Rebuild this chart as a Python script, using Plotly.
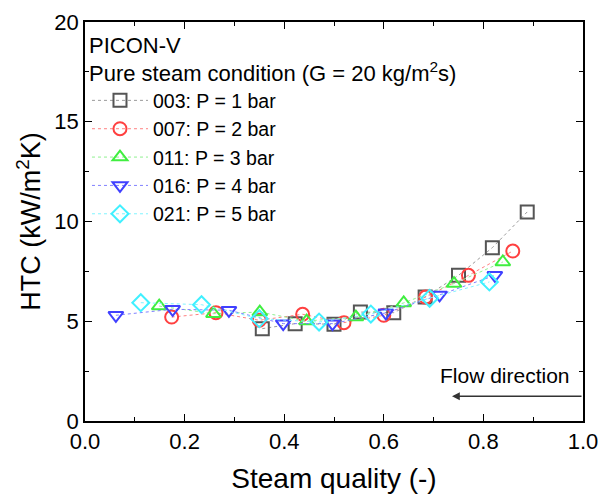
import plotly.graph_objects as go

# ---- data ----
x_003 = [0.356, 0.422, 0.500, 0.553, 0.620, 0.683, 0.750, 0.818, 0.888]
y_003 = [4.63, 4.88, 4.85, 5.46, 5.43, 6.22, 7.30, 8.69, 10.48]

x_007 = [0.174, 0.263, 0.350, 0.437, 0.520, 0.600, 0.684, 0.770, 0.859]
y_007 = [5.21, 5.43, 5.05, 5.35, 4.93, 5.30, 6.21, 7.30, 8.52]

x_011 = [0.149, 0.258, 0.351, 0.445, 0.544, 0.640, 0.741, 0.839]
y_011 = [5.76, 5.38, 5.46, 5.01, 5.21, 5.92, 6.89, 7.97]

x_016 = [0.062, 0.176, 0.289, 0.398, 0.497, 0.604, 0.712, 0.823]
y_016 = [5.30, 5.60, 5.55, 4.88, 4.88, 5.42, 6.32, 7.30]

x_021 = [0.112, 0.234, 0.350, 0.470, 0.574, 0.692, 0.812]
y_021 = [5.93, 5.83, 5.13, 4.96, 5.36, 6.15, 6.97]

names = ["003: P = 1 bar", "007: P = 2 bar", "011: P = 3 bar",
         "016: P = 4 bar", "021: P = 5 bar"]
xs = [x_003, x_007, x_011, x_016, x_021]
ys = [y_003, y_007, y_011, y_016, y_021]
symbols = ["square-open", "circle-open", "triangle-up-open",
           "triangle-down-open", "diamond-open"]
mcolors = ["#555555", "#FF4040", "#40EE40", "#4040FF", "#40F0FF"]
lcolors = ["#9a9a9a", "#FF8080", "#90F090", "#8080FF", "#80F4FF"]

FONT = "Liberation Sans, Arial, sans-serif"

fig = go.Figure()
for xv, yv, nm, sy, mc, lc in zip(xs, ys, names, symbols, mcolors, lcolors):
    fig.add_trace(go.Scatter(
        x=xv, y=yv, name=nm, mode="lines+markers",
        line=dict(color=lc, width=1, dash="dot"),
        marker=dict(symbol=sy, size=13, color=mc, line=dict(width=2, color=mc)),
    ))

fig.add_annotation(
    x=0.737, y=1.24, ax=1.0, ay=1.24, xref="x", yref="y", axref="x", ayref="y",
    text="", showarrow=True, arrowhead=2, arrowsize=1.2, arrowwidth=1.3,
    arrowcolor="#333333",
)
fig.add_annotation(
    x=0.978, y=2.3, xref="x", yref="y", text="Flow direction", showarrow=False,
    xanchor="right", yanchor="middle", font=dict(family=FONT, size=21, color="black"),
)

axis_common = dict(
    showline=True, linecolor="black", linewidth=1.5, mirror="allticks",
    ticks="inside", ticklen=7, tickwidth=1.3, tickcolor="black",
    showgrid=False, zeroline=False, automargin=False,
    tickfont=dict(family=FONT, size=22, color="black"),
)

fig.update_layout(
    width=609, height=496,
    margin=dict(l=85, r=26, t=22, b=75),
    paper_bgcolor="white", plot_bgcolor="white",
    font=dict(family=FONT, color="black"),
    xaxis=dict(range=[0, 1.0], dtick=0.2, tickformat=".1f",
               minor=dict(ticks="inside", ticklen=4, dtick=0.1, tickcolor="black"),
               title=dict(text="Steam quality (-)", font=dict(family=FONT, size=28),
                          standoff=15),
               **axis_common),
    yaxis=dict(range=[0, 20], dtick=5,
               minor=dict(ticks="inside", ticklen=4, dtick=2.5, tickcolor="black"),
               title=dict(text="HTC (kW/m<sup>2</sup>K)", font=dict(family=FONT, size=27),
                          standoff=6),
               **axis_common),
    showlegend=True,
    legend=dict(
        x=0.004, y=0.995, xanchor="left", yanchor="top",
        bgcolor="rgba(0,0,0,0)", borderwidth=0,
        font=dict(family=FONT, size=19.5, color="black"),
        title=dict(text="PICON-V<br>Pure steam condition (G = 20 kg/m<sup>2</sup>s)",
                   font=dict(family=FONT, size=22, color="black"), side="top"),
        itemwidth=56,
    ),
)

fig.write_html("out.html")
